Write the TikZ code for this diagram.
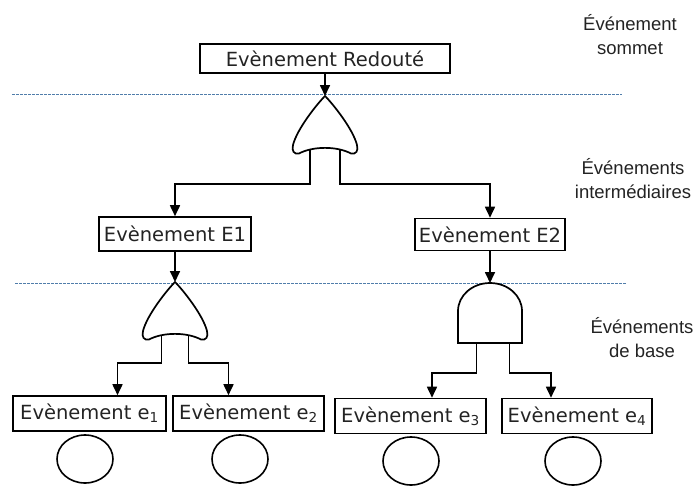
\documentclass[tikz,border=0pt]{standalone}
\usepackage{fontspec}
\setmainfont{DejaVu Sans}
\newfontfamily\labelfont{Liberation Sans}
\usepackage{tikz}
\usetikzlibrary{arrows.meta, calc, shapes.geometric}
\definecolor{levelblue}{RGB}{80, 125, 170}
\definecolor{inktext}{RGB}{35, 35, 35}

\tikzset{
  orgate/.pic={
    \draw[line width=1.7pt, fill=white] (0,0) .. controls (-8,8) and (-28,33) .. (-32,49)
      .. controls (-33.5,55) and (-31,58.5) .. (-26,57.5)
      .. controls (-12,50) and (12,50) .. (26,57.5)
      .. controls (31,58.5) and (33.5,55) .. (32,49)
      .. controls (28,33) and (8,8) .. (0,0) -- cycle;
    \coordinate (-top) at (0,0);
    \coordinate (-bot) at (0,53);
  },
  andgate/.pic={
    \draw[line width=1.7pt, fill=white] (-32,60) -- (-32,28)
      arc[start angle=180, end angle=360, x radius=32, y radius=28] -- (32,60) -- cycle;
    \coordinate (-top) at (0,0);
    \coordinate (-bot) at (0,60);
  }
}

\begin{document}
\begin{tikzpicture}[x=1pt, y=-1pt,
  evbox/.style={draw, line width=1.6pt, inner xsep=4pt, text=inktext,
    font=\fontsize{19.5}{21}\selectfont},
  arr/.style={line width=1.7pt, -{Triangle[width=10pt, length=11pt]}},
  level/.style={levelblue, line width=0.9pt, dash pattern=on 2.5pt off 1.5pt},
  leveltext/.style={align=center, text=inktext, font=\labelfont\fontsize{18.5}{24}\selectfont},
  basic/.style={draw, ellipse, line width=1.6pt, minimum width=56pt, minimum height=48pt}]
  \useasboundingbox (0,0) rectangle (699,485);

  % Levels
  \draw[level] (12,94) -- (622,94);
  \draw[level] (15,283) -- (627,283);
  \node[leveltext] (lsommet) at (630,35) {Événement\\sommet};
  \node[leveltext] (linter) at (633,179) {Événements\\intermédiaires};
  \node[leveltext] (lbase) at (642,338) {Événements\\de base};

  % Top event
  \node[evbox, minimum width=250pt, minimum height=29pt] (top) at (325,58.5) {Evènement Redouté};
  \pic (g1) at (325,96) {orgate};
  \draw[arr] (top.south) -- (g1-top);

  % Intermediate events
  \node[evbox, minimum width=152pt, minimum height=34pt] (E1) at (175,234) {Evènement E1};
  \node[evbox, minimum width=146pt, minimum height=32pt] (E2) at (490,234.5) {Evènement E2};
  \draw[arr] ($(g1-bot)+(-15,0)$) -- ++(0,35) -| (E1.north);
  \draw[arr] ($(g1-bot)+(15,0)$) -- ++(0,35) -| (E2.north);

  \pic (g2) at (175,282) {orgate};
  \pic (g3) at (490,283) {andgate};
  \draw[arr] (E1.south) -- (g2-top);
  \draw[arr] (E2.south) -- (g3-top);

  % Basic events
  \node[evbox, minimum width=153pt, minimum height=35pt] (e1) at (89.5,413.5) {Evènement e\textsubscript{1}};
  \node[evbox, minimum width=151pt, minimum height=35pt] (e2) at (248.5,413.5) {Evènement e\textsubscript{2}};
  \node[evbox, minimum width=151pt, minimum height=35pt] (e3) at (410.5,416) {Evènement e\textsubscript{3}};
  \node[evbox, minimum width=150pt, minimum height=35pt] (e4) at (577,416) {Evènement e\textsubscript{4}};
  \draw[arr] ($(g2-bot)+(-13.5,0)$) -- ++(0,28) -| ($(e1.north)+(28,0)$);
  \draw[arr] ($(g2-bot)+(13.5,0)$) -- ++(0,28) -| ($(e2.north)+(-20,0)$);
  \draw[arr] ($(g3-bot)+(-13.5,0)$) -- ++(0,30) -| ($(e3.north)+(21.5,0)$);
  \draw[arr] ($(g3-bot)+(19.5,0)$) -- ++(0,30) -| ($(e4.north)+(-26,0)$);

  \node[basic] (c1) at (85,459) {};
  \node[basic] (c2) at (240,459) {};
  \node[basic] (c3) at (411,461) {};
  \node[basic] (c4) at (573,461) {};
\end{tikzpicture}
\end{document}
